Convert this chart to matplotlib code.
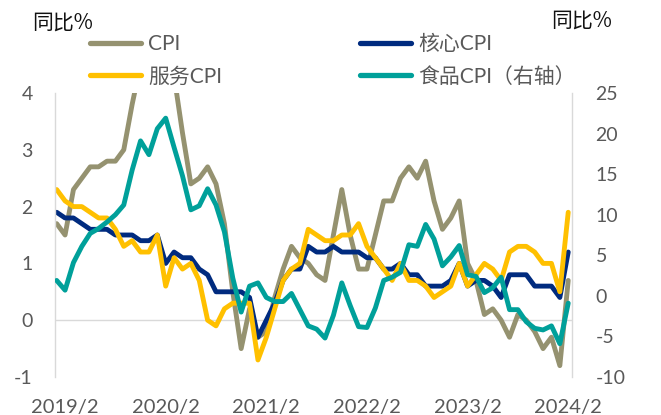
import matplotlib
matplotlib.use("Agg")
import matplotlib.pyplot as plt
from matplotlib.lines import Line2D

# ---- data (monthly, 2019/1 - 2024/2) ----
months = [f"{y}/{m}" for y in range(2019, 2025) for m in range(1, 13)][:62]
cpi = [1.7, 1.5, 2.3, 2.5, 2.7, 2.7, 2.8, 2.8, 3.0, 3.8, 4.5, 4.5,
       5.4, 5.2, 4.3, 3.3, 2.4, 2.5, 2.7, 2.4, 1.7, 0.5, -0.5, 0.2,
       -0.3, -0.2, 0.4, 0.9, 1.3, 1.1, 1.0, 0.8, 0.7, 1.5, 2.3, 1.5,
       0.9, 0.9, 1.5, 2.1, 2.1, 2.5, 2.7, 2.5, 2.8, 2.1, 1.6, 1.8,
       2.1, 1.0, 0.7, 0.1, 0.2, 0.0, -0.3, 0.1, 0.0, -0.2, -0.5, -0.3,
       -0.8, 0.7]
core = [1.9, 1.8, 1.8, 1.7, 1.6, 1.6, 1.6, 1.5, 1.5, 1.5, 1.4, 1.4,
        1.5, 1.0, 1.2, 1.1, 1.1, 0.9, 0.8, 0.5, 0.5, 0.5, 0.5, 0.4,
        -0.3, 0.0, 0.3, 0.7, 0.9, 0.9, 1.3, 1.2, 1.2, 1.3, 1.2, 1.2,
        1.2, 1.1, 1.1, 0.9, 0.9, 1.0, 0.8, 0.8, 0.6, 0.6, 0.6, 0.7,
        1.0, 0.6, 0.7, 0.7, 0.6, 0.4, 0.8, 0.8, 0.8, 0.6, 0.6, 0.6,
        0.4, 1.2]
service = [2.3, 2.1, 2.0, 2.0, 1.9, 1.8, 1.8, 1.6, 1.3, 1.4, 1.2, 1.2,
           1.5, 0.6, 1.1, 0.9, 1.0, 0.7, 0.0, -0.1, 0.2, 0.3, 0.3, 0.3,
           -0.7, -0.3, 0.2, 0.7, 0.9, 1.0, 1.6, 1.5, 1.4, 1.4, 1.5, 1.5,
           1.7, 1.3, 1.1, 0.9, 0.7, 1.0, 0.7, 0.7, 0.6, 0.4, 0.5, 0.6,
           1.0, 0.6, 0.8, 1.0, 0.9, 0.7, 1.2, 1.3, 1.3, 1.2, 1.0, 1.0,
           0.5, 1.9]
food = [1.9, 0.7, 4.1, 6.1, 7.7, 8.3, 9.1, 10.0, 11.2, 15.5, 19.1, 17.4,
        20.6, 21.9, 18.3, 14.8, 10.6, 11.1, 13.2, 11.2, 7.9, 2.2, -2.0, 1.2,
        1.6, -0.2, -0.7, -0.7, 0.3, -1.7, -3.7, -4.1, -5.2, -2.4, 1.6, -1.2,
        -3.8, -3.9, -1.5, 1.9, 2.3, 2.9, 6.3, 6.1, 8.8, 7.0, 3.7, 4.8,
        6.2, 2.6, 2.4, 0.4, 1.0, 2.3, -1.7, -1.7, -3.2, -4.0, -4.2, -3.7,
        -5.9, -0.9]
xtick_labels = ["2019/2", "2020/2", "2021/2", "2022/2", "2023/2", "2024/2"]
left_ticks = [-1, 0, 1, 2, 3, 4]
right_ticks = [-10, -5, 0, 5, 10, 15, 20, 25]
names = ["CPI", "核心CPI", "服务CPI", "食品CPI（右轴）"]

C_CPI = "#959270"
C_CORE = "#002B7F"
C_SERV = "#FFC000"
C_FOOD = "#00A09A"
GRID = "#D9D9D9"
TXT = "#595959"

LAT = ["Lato", "Noto Sans CJK SC", "DejaVu Sans"]
CJK = ["Noto Sans CJK SC", "DejaVu Sans"]

fig = plt.figure(figsize=(6.61, 4.15), dpi=100)
W, H = 661, 415
ax = fig.add_axes([55 / W, 1 - 377 / H, (572 - 55) / W, (377 - 93) / H])
ax2 = ax.twinx()

x = list(range(len(months)))
lw = 3.5
kw = dict(linewidth=lw, solid_joinstyle="round", solid_capstyle="round")
l1, = ax.plot(x, cpi, color=C_CPI, **kw)
l2, = ax.plot(x, core, color=C_CORE, **kw)
l3, = ax.plot(x, service, color=C_SERV, **kw)
l4, = ax2.plot(x, food, color=C_FOOD, **kw)

ax.set_ylim(-1, 4)
ax2.set_ylim(-10, 25)
ax.set_xlim(-0.2, 61.45)
ax.axhline(0, color=GRID, linewidth=1.0, zorder=0)

ax.set_yticks(left_ticks)
ax.set_yticklabels([str(t) for t in left_ticks])
ax2.set_yticks(right_ticks)
ax2.set_yticklabels([str(t) for t in right_ticks])
ax.set_xticks([months.index(s) for s in xtick_labels])
ax.set_xticklabels(xtick_labels)

for a in (ax, ax2):
    for s in ("top", "bottom"):
        a.spines[s].set_visible(False)
    a.spines["left"].set_color(GRID)
    a.spines["right"].set_color(GRID)
    a.spines["left"].set_linewidth(1.0)
    a.spines["right"].set_linewidth(1.0)
ax.spines["right"].set_visible(False)
ax2.spines["left"].set_visible(False)

ax.tick_params(axis="y", length=0, pad=16, labelsize=14, labelcolor=TXT)
ax2.tick_params(axis="y", length=0, pad=17, labelsize=14, labelcolor=TXT)
ax.tick_params(axis="x", length=0, pad=16, labelsize=14.5, labelcolor=TXT)
for lab in ax.get_xticklabels() + ax.get_yticklabels() + ax2.get_yticklabels():
    lab.set_family(LAT)

fig.text(32 / W, 1 - 23 / H, "同比%", family=CJK, fontsize=15, color="#111111",
         ha="left", va="center", fontweight="medium")
fig.text(612 / W, 1 - 21 / H, "同比%", family=CJK, fontsize=15, color="#111111",
         ha="right", va="center", fontweight="medium")

def mk(c):
    return Line2D([0], [0], color=c, linewidth=3.8, solid_capstyle="round")

common = dict(frameon=False, loc="center left", handlelength=2.45, handletextpad=0.35,
              labelspacing=0.6, borderpad=0, borderaxespad=0,
              prop={"family": LAT, "size": 15}, labelcolor=TXT)
leg1 = fig.legend([mk(C_CPI), mk(C_SERV)], [names[0], names[2]],
                  bbox_to_anchor=(90 / W, 1 - 60.5 / H), **common)
leg2 = fig.legend([mk(C_CORE), mk(C_FOOD)], [names[1], names[3]],
                  bbox_to_anchor=(360 / W, 1 - 60.5 / H), **common)

fig.savefig("out.png", dpi=100)
